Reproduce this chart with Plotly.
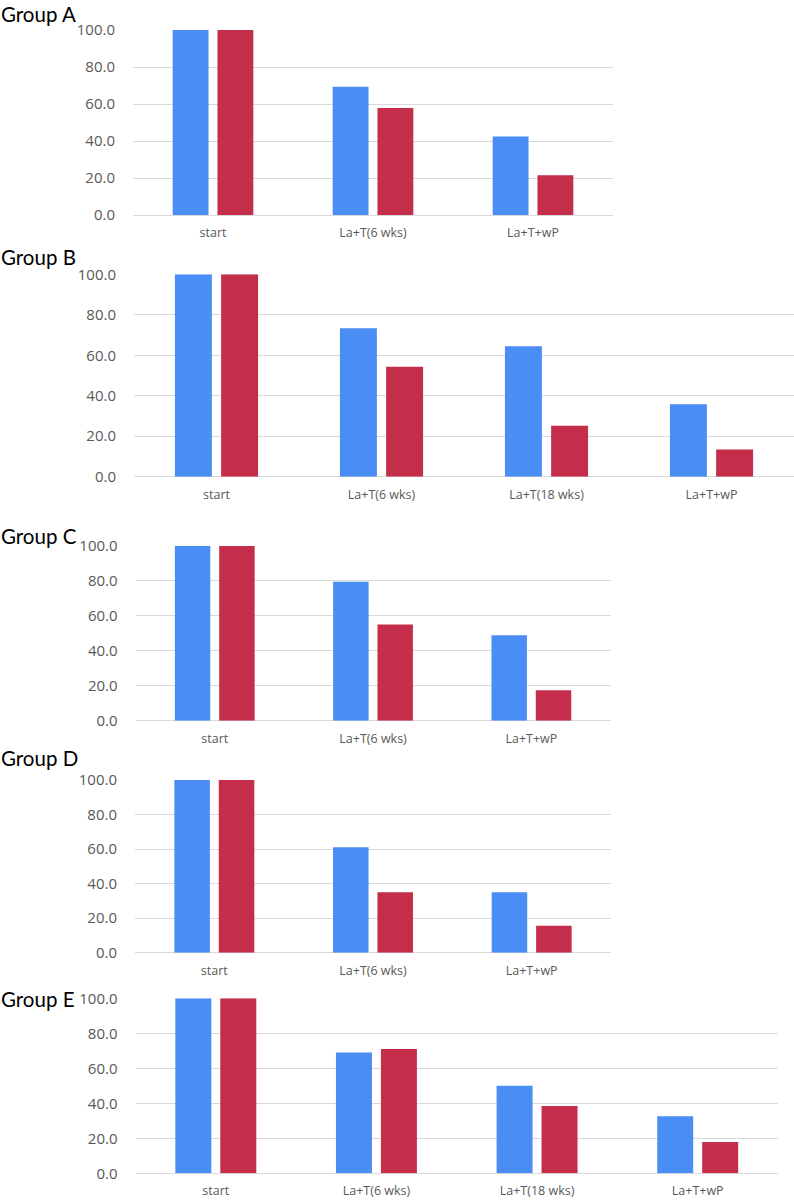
import plotly.graph_objects as go

# ---- data ----
cats_A = ["start", "La+T(6 wks)", "La+T+wP"]
blue_A = [100.0, 69.3, 42.5]
red_A = [100.0, 57.8, 21.5]

cats_B = ["start", "La+T(6 wks)", "La+T(18 wks)", "La+T+wP"]
blue_B = [100.0, 73.3, 64.4, 35.8]
red_B = [100.0, 54.3, 25.2, 13.5]

cats_C = ["start", "La+T(6 wks)", "La+T+wP"]
blue_C = [100.0, 79.5, 48.9]
red_C = [100.0, 55.0, 17.4]

cats_D = ["start", "La+T(6 wks)", "La+T+wP"]
blue_D = [100.0, 61.0, 35.0]
red_D = [100.0, 35.0, 15.6]

cats_E = ["start", "La+T(6 wks)", "La+T(18 wks)", "La+T+wP"]
blue_E = [100.0, 69.1, 50.1, 32.6]
red_E = [100.0, 71.0, 38.5, 17.9]

titles = ["Group A", "Group B", "Group C", "Group D", "Group E"]

BLUE = "#4A8DF4"
RED = "#C42E4A"
GRID = "#D9D9D9"
TICK = "#595959"

W, H = 794, 1200

# panel pixel boxes: (x0, x1, ytop, ybottom), title y centre
panels = [
    (cats_A, blue_A, red_A, (133, 613, 30, 215), 14),
    (cats_B, blue_B, red_B, (134, 794, 274.3, 476.7), 257),
    (cats_C, blue_C, red_C, (135.6, 610.5, 546, 720.7), 535.5),
    (cats_D, blue_D, red_D, (135, 611, 780, 952.7), 757.5),
    (cats_E, blue_E, red_E, (135.5, 778, 998.3, 1173.3), 999),
]

fig = go.Figure()
annotations = []
for i, (cats, b, r, box, ty) in enumerate(panels):
    n = "" if i == 0 else str(i + 1)
    xa, ya = "x" + n, "y" + n
    fig.add_trace(go.Bar(x=cats, y=b, marker=dict(color=BLUE, line=dict(width=0)),
                         xaxis=xa, yaxis=ya, showlegend=False, hoverinfo="y"))
    fig.add_trace(go.Bar(x=cats, y=r, marker=dict(color=RED, line=dict(width=0)),
                         xaxis=xa, yaxis=ya, showlegend=False, hoverinfo="y"))
    x0, x1, yt, yb = box
    fig.layout["xaxis" + n] = dict(
        domain=[x0 / W, x1 / W], anchor=ya, showgrid=False, zeroline=False,
        showline=False, ticks="outside", ticklen=6, tickcolor="rgba(0,0,0,0)",
        tickfont=dict(family="Open Sans", size=12.5, color=TICK), fixedrange=True,
        automargin=False,
    )
    fig.layout["yaxis" + n] = dict(
        domain=[1 - yb / H, 1 - yt / H], anchor=xa, range=[0, 100], dtick=20,
        tickformat=".1f", showgrid=True, gridcolor=GRID, gridwidth=1,
        zeroline=True, zerolinecolor=GRID, zerolinewidth=1, showline=False,
        ticks="outside", ticklen=14, tickcolor="rgba(0,0,0,0)",
        tickfont=dict(family="Open Sans", size=15, color=TICK), fixedrange=True,
        automargin=False,
    )
    annotations.append(dict(
        text=titles[i], xref="paper", yref="paper", x=0, y=1 - ty / H,
        xanchor="left", yanchor="middle", showarrow=False, borderpad=0,
        font=dict(family="Lato", size=20.5, color="#000000"),
    ))

fig.update_layout(
    template="none",
    width=W, height=H, margin=dict(l=0, r=0, t=0, b=0, pad=0),
    paper_bgcolor="white", plot_bgcolor="white",
    barmode="group", bargap=0.44, bargroupgap=0.2,
    annotations=annotations,
)

fig.write_html("out.html", config={"displayModeBar": False},
               post_script="document.body.style.margin='0';document.body.style.padding='0';")
